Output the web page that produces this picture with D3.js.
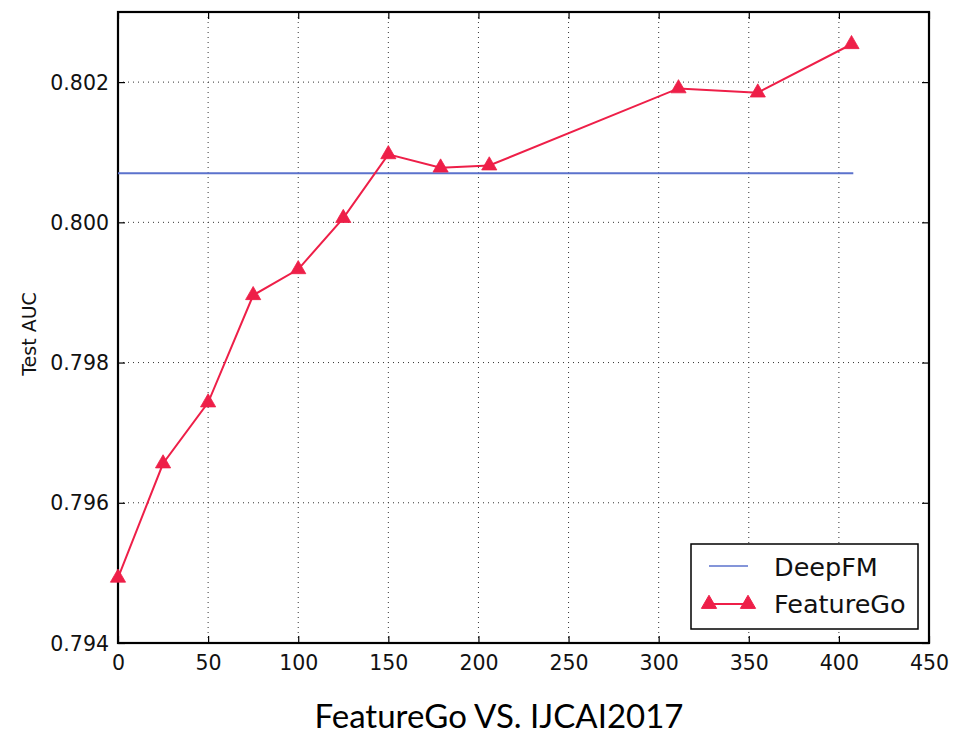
<!DOCTYPE html>
<html><head><meta charset="utf-8">
<script src="https://cdn.jsdelivr.net/npm/d3@7"></script>
<style>body{margin:0;background:#fff}</style>
</head><body>
<svg id="c" width="954" height="743"></svg>
<script>
const xTicks = [0, 50, 100, 150, 200, 250, 300, 350, 400, 450];
const yTicks = [0.794, 0.796, 0.798, 0.800, 0.802];
const featureGoX = [0, 25, 50, 75, 100, 125, 150, 179, 206, 311, 355, 407];
const featureGoY = [0.79493, 0.79656, 0.79743, 0.79896, 0.79933, 0.80006, 0.80097, 0.80078, 0.80081, 0.80191, 0.80185, 0.80254];
const deepFMX = [0, 408];
const deepFMY = [0.80070, 0.80070];
const seriesNames = ["DeepFM", "FeatureGo"];
const caption = "FeatureGo VS. IJCAI2017";
const yLabel = "Test AUC";

const svg = d3.select("#c");
const L = 118, R = 929, T = 12, B = 643;
const x = d3.scaleLinear().domain([0, 450]).range([L, R]);
const y = d3.scaleLinear().domain([0.794, 0.803]).range([B, T]);
const red = "#ee1f48", blue = "#5b72cc";

// grid
const g = svg.append("g");
g.selectAll(".vg").data(xTicks.slice(1, -1)).enter().append("line")
  .attr("x1", d => x(d)).attr("x2", d => x(d)).attr("y1", T).attr("y2", B)
  .attr("stroke", "#333").attr("stroke-width", 1).attr("stroke-dasharray", "1,4");
g.selectAll(".hg").data(yTicks.slice(1)).enter().append("line")
  .attr("x1", L).attr("x2", R).attr("y1", d => y(d)).attr("y2", d => y(d))
  .attr("stroke", "#333").attr("stroke-width", 1).attr("stroke-dasharray", "1,4");

// axes (ticks inward)
const fontTick = "DejaVu Sans, sans-serif";
const xa = svg.append("g").attr("transform", `translate(0,${B})`)
  .call(d3.axisBottom(x).tickValues(xTicks).tickSize(-7).tickPadding(12).tickFormat(d3.format("d")));
const xt = svg.append("g").attr("transform", `translate(0,${T})`)
  .call(d3.axisTop(x).tickValues(xTicks).tickSize(-7).tickFormat(""));
const ya = svg.append("g").attr("transform", `translate(${L},0)`)
  .call(d3.axisLeft(y).tickValues(yTicks).tickSize(-7).tickPadding(9).tickFormat(d3.format(".3f")));
const yr = svg.append("g").attr("transform", `translate(${R},0)`)
  .call(d3.axisRight(y).tickValues(yTicks).tickSize(-7).tickFormat(""));
[xa, xt, ya, yr].forEach(a => {
  a.select(".domain").remove();
  a.selectAll("line").attr("stroke", "#000").attr("stroke-width", 1.2);
  a.selectAll("text").attr("font-family", fontTick).attr("font-size", 20.5).attr("fill", "#111");
});
ya.selectAll("text").attr("dy", "0.35em");
svg.append("rect").attr("x", L).attr("y", T).attr("width", R - L).attr("height", B - T)
  .attr("fill", "none").attr("stroke", "#000").attr("stroke-width", 2.2);

// DeepFM line
const line = d3.line().x(d => x(d[0])).y(d => y(d[1]));
svg.append("path").datum(d3.zip(deepFMX, deepFMY)).attr("d", line)
  .attr("fill", "none").attr("stroke", blue).attr("stroke-width", 1.8);

// FeatureGo
const fg = d3.zip(featureGoX, featureGoY);
svg.append("path").datum(fg).attr("d", line)
  .attr("fill", "none").attr("stroke", red).attr("stroke-width", 2);
const tri = d3.symbol().type(d3.symbolTriangle).size(100);
svg.selectAll(".m").data(fg).enter().append("path")
  .attr("d", tri).attr("transform", d => `translate(${x(d[0])},${y(d[1])})`)
  .attr("fill", red).attr("stroke", red).attr("stroke-width", 0.8);

// y label
svg.append("text").attr("transform", `translate(36,334) rotate(-90)`)
  .attr("text-anchor", "middle").attr("font-family", fontTick).attr("font-size", 19).attr("fill", "#111").text(yLabel);

// legend
const lg = svg.append("g");
lg.append("rect").attr("x", 691).attr("y", 544).attr("width", 227).attr("height", 85)
  .attr("fill", "#fff").attr("stroke", "#000").attr("stroke-width", 1.5);
lg.append("line").attr("x1", 709).attr("x2", 748).attr("y1", 566).attr("y2", 566).attr("stroke", blue).attr("stroke-width", 1.5);
lg.append("line").attr("x1", 709).attr("x2", 748).attr("y1", 604).attr("y2", 604).attr("stroke", red).attr("stroke-width", 2);
[709, 748].forEach(px => lg.append("path").attr("d", tri).attr("transform", `translate(${px},604)`).attr("fill", red).attr("stroke", red));
lg.selectAll(".lt").data(seriesNames).enter().append("text")
  .attr("x", 774).attr("y", (d, i) => 567 + i * 37).attr("dy", "0.35em")
  .attr("font-family", fontTick).attr("font-size", 25.5).attr("fill", "#111").text(d => d);

// caption
svg.append("text").attr("x", 499).attr("y", 728).attr("text-anchor", "middle")
  .attr("font-family", "Lato, sans-serif").attr("font-size", 33).attr("fill", "#000").text(caption);
</script>
</body></html>
